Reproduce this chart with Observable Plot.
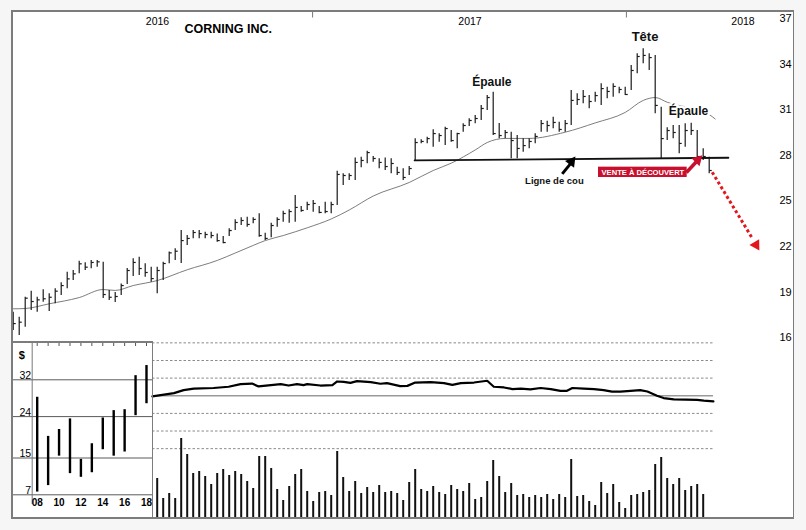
<!DOCTYPE html>
<html><head><meta charset="utf-8">
<script src="https://cdn.jsdelivr.net/npm/d3@7"></script>
<script src="https://cdn.jsdelivr.net/npm/@observablehq/plot@0.6"></script>
<style>
body{margin:0;background:#f6f6f6;}
#root{position:relative;width:806px;height:530px;overflow:hidden;font-family:"Liberation Sans",Arial,sans-serif;}
</style></head><body><div id="root"></div>
<script>
// ---------- DATA ----------
// weekly bars, week index 0 = first week of Jan 2016
const highs = [17.68,17.35,18.66,19.06,18.66,19.15,18.89,19.22,19.61,20.31,
20.42,21.03,20.93,21.08,21.08,20.97,19.10,18.97,19.54,20.55,
21.19,21.30,20.86,20.64,20.64,20.97,21.63,21.85,23.05,22.72,
23.05,23.05,22.94,22.94,22.83,22.66,23.16,23.76,23.89,23.93,
23.89,24.15,22.87,23.53,23.89,24.32,24.41,25.35,24.63,24.91,
25.03,24.63,24.91,24.91,26.95,26.78,26.78,27.83,27.87,28.27,
27.92,27.77,27.83,27.77,27.22,27.11,27.26,29.09,29.02,29.19,
29.68,29.41,29.85,29.63,29.45,30.07,30.40,30.62,31.28,31.93,
32.15,30.09,29.63,29.52,29.30,29.09,29.09,29.41,30.29,30.24,
30.51,30.18,30.29,32.26,32.05,32.26,31.93,32.15,32.70,32.48,
32.70,32.48,32.48,33.91,34.68,35.01,34.68,34.57,31.16,29.81,
29.96,29.96,30.07,30.11,29.63,28.43,27.87];
const lows = [16.47,16.15,16.69,17.79,17.68,18.33,17.72,18.23,18.78,19.22,
19.76,20.20,20.42,20.53,20.64,18.58,18.45,18.32,18.77,19.50,
20.03,20.09,19.98,19.65,18.89,19.76,20.86,21.08,20.88,22.07,
22.51,22.51,22.51,22.51,22.28,22.18,22.66,23.05,23.38,23.27,
23.49,22.61,22.39,22.57,23.27,23.60,23.53,23.60,24.26,24.37,
24.26,24.15,24.15,24.15,24.70,26.01,26.34,26.34,27.18,27.44,
27.55,27.11,27.00,26.78,26.67,26.34,26.67,27.66,28.76,28.76,
28.53,28.86,28.64,28.86,28.43,29.52,29.89,30.07,30.29,30.95,
29.30,29.09,29.09,27.77,27.77,28.20,28.43,28.76,29.52,29.52,
29.74,29.52,29.52,29.96,31.28,31.39,31.06,31.49,31.28,31.72,
31.82,32.05,31.93,32.26,33.36,34.02,33.58,30.73,27.77,28.97,
29.09,28.10,28.53,29.30,27.77,27.66,26.78];
const closes = [16.93,17.02,18.60,18.38,18.49,18.56,18.66,19.06,19.43,19.87,
20.20,20.86,20.64,20.95,20.99,18.84,18.66,18.71,19.43,20.42,
20.95,20.55,20.29,19.89,20.42,20.88,21.58,21.69,22.39,22.53,
22.92,22.85,22.79,22.72,22.39,22.26,23.05,23.58,23.71,23.45,
23.78,22.72,22.53,23.38,23.78,24.17,24.30,24.57,24.37,24.76,
24.83,24.24,24.30,24.76,26.74,26.67,26.67,27.53,27.66,28.18,
27.79,27.53,27.26,27.46,26.87,26.54,27.13,28.84,28.91,29.10,
29.43,29.30,29.76,28.97,29.43,29.96,30.29,30.42,31.08,31.80,
29.43,29.30,29.50,28.97,28.45,28.64,28.91,29.24,30.09,29.96,
30.16,29.70,30.09,31.61,31.67,31.87,31.54,31.93,32.39,32.20,
32.53,32.33,32.00,33.58,34.50,34.57,34.43,31.28,29.10,29.63,
29.50,28.78,29.63,29.63,27.92,27.92,27.00];
const weeks = highs.map((_, k) => k);

// moving average (read at selected weeks)
const maWeek  = [0,2,6,11,15,17,20,24,29,34,37,40,42,45,49,53,56,60,66,70,73,77,79,82,86,92,97,102,105,107,109,116,117];
const maValue = [17.90,17.92,18.23,18.64,19.17,19.11,19.43,19.76,20.47,21.08,21.57,22.07,22.39,22.72,23.23,23.81,24.40,25.32,26.21,27.00,27.48,28.35,28.84,29.11,29.11,29.52,30.13,30.82,31.61,31.80,31.49,30.68,30.39];

// neckline
const neckWeek  = [66.9, 119.2];
const neckPrice = [27.66, 27.84];

// volume (weeks 24..115)
const volFirstWeek = 24;
const volume = [40,20,25,20,80,64,45,47,42,34,45,49,43,47,44,37,30,62,62,50,
29,18,32,44,49,27,17,26,27,23,67,41,27,37,25,31,26,33,26,27,
25,18,36,49,29,27,32,26,24,33,29,27,35,19,21,37,58,42,26,35,
23,24,21,23,21,24,19,24,21,59,22,23,17,13,36,25,34,16,10,23,
24,26,28,54,61,40,34,40,28,32,34,24];
const volWeeks = volume.map((_, k) => volFirstWeek + k);

// relative strength line
const rsWeek  = [23.2,26.8,28.4,30.1,33.4,35.9,37.9,39.8,40.9,44.6,45.9,47.3,48.4,49.0,51.2,53.2,54.0,55.1,56.2,57.3,59.6,61.2,62.3,64.5,65.7,67.0,69.6,71.8,73.2,74.6,76.8,79.0,80.1,81.8,83.2,84.6,86.2,87.9,89.6,91.2,92.3,93.2,95.1,96.8,98.4,99.8,101.2,102.9,104.5,105.7,107.3,108.4,110.1,114.0,115.1,116.7];
const rsValue = [-0.03,0.15,0.32,0.40,0.44,0.51,0.66,0.69,0.53,0.66,0.58,0.66,0.60,0.66,0.58,0.60,0.81,0.79,0.73,0.83,0.77,0.68,0.72,0.55,0.56,0.75,0.77,0.72,0.62,0.72,0.75,0.85,0.51,0.47,0.38,0.40,0.36,0.44,0.38,0.28,0.28,0.44,0.41,0.38,0.32,0.23,0.23,0.28,0.32,0.24,0.00,-0.13,-0.21,-0.23,-0.28,-0.32];
const rsGrid = [-3,-2,-1,1,2,3];

// long-term inset (yearly ranges)
const insetYears = [2008,2009,2010,2011,2012,2013,2014,2015,2016,2017,2018];
const insetHigh  = [28.2,19.7,21.2,23.5,14.7,18.1,23.7,25.3,25.5,32.9,35.1];
const insetLow   = [7.6,9.0,15.4,11.6,10.8,11.8,16.8,15.4,16.3,24.2,26.8];
const insetTicks = [7,15,24,32];
const insetLabelYears = [2008,2010,2012,2014,2016,2018];

// axes / labels
const priceTicks = [16,19,22,25,28,31,34,37];
const yearLabels = ["2016","2017","2018"];
const yearLabelWeeks = [24.05,76.13,121.63];
const yearTickWeeks = [49.9,102.2];
const title = "CORNING INC.";
const notes = [
  {text:"Épaule", week:79.77, price:32.78, size:12, halo:false},
  {text:"Tête", week:105.3, price:35.78, size:13, halo:false},
  {text:"Épaule", week:112.55, price:30.93, size:12, halo:true},
  {text:"Ligne de cou", week:90.2, price:26.28, size:9.5, halo:false}
];
const solidArrows = [
  {x1:91.5, y1:26.78, x2:92.9, y2:27.45, hx:93.05, hy:27.57, rot:37, color:"#000", w:3},
  {x1:112.2, y1:26.87, x2:113.9, y2:27.59, hx:114.1, hy:27.70, rot:45, color:"#c8102e", w:3.5}
];
const targetArrow = [{x1:116.5, y1:26.89, x2:123.2, y2:22.53, hx:123.8, hy:22.10, rot:149, color:"#e3161b", w:3}];
const venteText = "VENTE À DÉCOUVERT";
const venteBox = {x1:97.55, x2:112.33, y1:26.54, y2:27.22, tx:104.95, ty:26.88};

// ---------- DRAW ----------
const FONT = '"Liberation Sans", Arial, sans-serif';
const root = document.getElementById("root");
function box(l,t,w,h,bg){const d=document.createElement("div");Object.assign(d.style,{position:"absolute",left:l+"px",top:t+"px",width:w+"px",height:h+"px",background:bg});root.appendChild(d);return d;}
function place(el,l,t){el.style.position="absolute";el.style.left=l+"px";el.style.top=t+"px";root.appendChild(el);}
const baseStyle = {fontFamily:FONT, fontSize:"11px", background:"transparent", overflow:"visible", color:"#000"};

box(12,11,781,507,"#fff");

const bars = weeks.map((w,k)=>({week:w, high:highs[k], low:lows[k], close:closes[k]}));
const ma = maWeek.map((w,k)=>({week:w, value:maValue[k]}));
const neck = neckWeek.map((w,k)=>({week:w, price:neckPrice[k]}));

const main = Plot.plot({
  width:806, height:342, marginLeft:12, marginRight:28, marginTop:0, marginBottom:0,
  style:baseStyle,
  x:{domain:[-0.117,127.55], axis:null},
  y:{domain:[15.684,38.184]},
  marks:[
    Plot.ruleX(yearTickWeeks,{insetTop:11, insetBottom:342-17.5, stroke:"#777", strokeWidth:1}),
    Plot.text(yearLabels,{x:(d,k)=>yearLabelWeeks[k], frameAnchor:"top", dy:17.5, text:d=>d, fontSize:10.5}),
    Plot.text([title],{frameAnchor:"top-left", dx:172, dy:23.7, textAnchor:"start", fontWeight:"bold", fontSize:12.5}),
    Plot.line(ma,{x:"week", y:"value", stroke:"#7d7d7d", strokeWidth:1, curve:"monotone-x"}),
    Plot.ruleX(bars,{x:"week", y1:"low", y2:"high", stroke:"#1a1a1a", strokeWidth:1.2}),
    Plot.link(bars,{x1:"week", x2:d=>d.week+0.42, y1:"close", y2:"close", stroke:"#1a1a1a", strokeWidth:1.2}),
    Plot.line(neck,{x:"week", y:"price", stroke:"#111", strokeWidth:1.8}),
    Plot.text(notes.filter(d=>d.halo),{x:"week", y:"price", text:"text", fontSize:d=>d.size, fontWeight:"bold", stroke:"#fff", strokeWidth:5, fill:"#fff"}),
    Plot.text(notes,{x:"week", y:"price", text:"text", fontSize:d=>d.size, fontWeight:"bold", fill:"#111"}),
    Plot.link(solidArrows,{x1:"x1", y1:"y1", x2:"x2", y2:"y2", stroke:d=>d.color, strokeWidth:d=>d.w}),
    Plot.dot(solidArrows,{x:"hx", y:"hy", symbol:"triangle", r:4.2, fill:d=>d.color, stroke:"none", rotate:d=>d.rot}),
    Plot.link(targetArrow,{x1:"x1", y1:"y1", x2:"x2", y2:"y2", stroke:"#e3161b", strokeWidth:3, strokeDasharray:"3,2.6", strokeLinecap:"butt"}),
    Plot.dot(targetArrow,{x:"hx", y:"hy", symbol:"triangle", r:4.2, fill:"#e3161b", stroke:"none", rotate:d=>d.rot}),
    Plot.rect([venteBox],{x1:"x1", x2:"x2", y1:"y1", y2:"y2", fill:"#c8102e"}),
    Plot.text([venteBox],{x:"tx", y:"ty", text:()=>venteText, fill:"#fff", fontWeight:"bold", fontSize:7.6}),
    Plot.axisY({anchor:"right", ticks:priceTicks, tickSize:0, tickPadding:1, fontSize:11, label:null, tickFormat:d=>String(d)})
  ]
});
place(main,0,0);

// RS panel
const rs = rsWeek.map((w,k)=>({week:w, value:rsValue[k]}));
const rsPlot = Plot.plot({
  width:561, height:176, margin:0, style:baseStyle,
  x:{domain:[23.217,116.717], axis:null},
  y:{domain:[-6.96,3.02], axis:null},
  marks:[
    Plot.ruleY(rsGrid,{stroke:"#8a8a8a", strokeWidth:1, strokeDasharray:"2.5,2"}),
    Plot.ruleY([0],{stroke:"#9a9a9a", strokeWidth:1.6}),
    Plot.line(rs,{x:"week", y:"value", stroke:"#000", strokeWidth:2.2})
  ]
});
place(rsPlot,152,342);

// volume
const vol = volume.map((v,k)=>({week:volWeeks[k], v}));
const volPlot = Plot.plot({
  width:561, height:176, margin:0, style:baseStyle,
  x:{domain:[23.217,116.717], axis:null},
  y:{domain:[0,176], axis:null},
  marks:[ Plot.ruleX(vol,{x:"week", y1:0, y2:"v", stroke:"#111", strokeWidth:2}) ]
});
place(volPlot,152,342);

// inset
const inset = insetYears.map((y,k)=>({year:y, hi:insetHigh[k], lo:insetLow[k]}));
const insetPlot = Plot.plot({
  width:140, height:176, margin:0, style:baseStyle,
  x:{domain:[2005.74,2018.55], range:[0,140], axis:null},
  y:{domain:[7,32], range:[152.3,37.3], axis:null},
  marks:[
    Plot.ruleY(insetTicks,{stroke:"#5a5a5a", strokeWidth:1}),
    Plot.ruleX([2007.54],{insetBottom:14, stroke:"#777", strokeWidth:1}),
    Plot.ruleX(insetYears,{insetBottom:172, stroke:"#555", strokeWidth:1}),
    Plot.ruleX(inset,{x:"year", y1:"lo", y2:"hi", stroke:"#000", strokeWidth:2.4}),
    Plot.text(insetTicks,{x:()=>2007.45, y:d=>d, text:d=>String(d), textAnchor:"end", dy:-4, fontSize:10.5}),
    Plot.text(["$"],{frameAnchor:"top-left", dx:6.3, dy:9, text:d=>d, fontWeight:"bold", fontSize:11}),
    Plot.text(insetLabelYears,{x:d=>d, frameAnchor:"bottom", dy:-13, text:d=>String(d).slice(2), fontWeight:"bold", fontSize:10})
  ]
});
place(insetPlot,12,342);

// frame lines
const G="#7c7c7c";
box(11,10,783,1.5,G);   // top
box(11,517,783,1.5,G);  // bottom
box(11,10,1.5,509,G);   // left
box(792.5,10,1.5,509,G);// right
box(11,341.3,142,1.4,G);  // inset top
box(151.8,341.3,1.4,177,G); // inset right
</script></body></html>
